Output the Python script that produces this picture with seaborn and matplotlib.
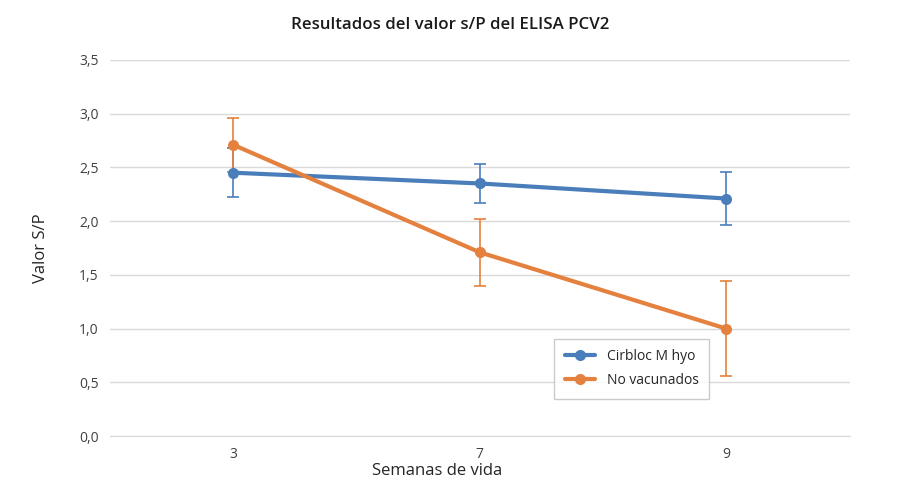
import numpy as np
import pandas as pd
import matplotlib
matplotlib.use("Agg")
import matplotlib.pyplot as plt
import seaborn as sns

# data
semanas = ["3", "7", "9"]
cirbloc = [2.45, 2.35, 2.21]
cirbloc_err = [0.23, 0.18, 0.25]
no_vac = [2.71, 1.71, 1.00]
no_vac_err = [0.25, 0.31, 0.44]
series = ["Cirbloc M hyo", "No vacunados"]
colors = ["#4a7ebb", "#e5813e"]

df = pd.DataFrame({
    "semana": semanas * 2,
    "valor": cirbloc + no_vac,
    "grupo": [series[0]] * 3 + [series[1]] * 3,
})

sns.set_style("white")
plt.rcParams["font.family"] = ["Open Sans", "DejaVu Sans"]

fig = plt.figure(figsize=(9, 4.94), dpi=100)
ax = fig.add_axes([0.122, 0.117, 0.822, 0.762])

# error bars first so the lines sit on top
for vals, errs, c in [(cirbloc, cirbloc_err, colors[0]), (no_vac, no_vac_err, colors[1])]:
    ax.errorbar(range(len(semanas)), vals, yerr=errs, fmt="none", ecolor=c,
                elinewidth=1.2, capsize=4, capthick=1.2, zorder=2)

sns.lineplot(data=df, x="semana", y="valor", hue="grupo", palette=colors,
             marker="o", markersize=8, markeredgewidth=0, linewidth=3,
             ax=ax, zorder=3)

ax.set_xlim(-0.5, 2.5)
ax.set_ylim(0, 3.5)
ax.set_yticks(np.arange(0, 3.51, 0.5))
ax.set_yticklabels([f"{v:.1f}".replace(".", ",") for v in np.arange(0, 3.51, 0.5)])
ax.yaxis.grid(True, color="#d9d9d9", linewidth=1)
ax.xaxis.grid(False)
ax.tick_params(axis="both", length=0, labelsize=10, labelcolor="#404040", pad=8)
for s in ["top", "right", "left"]:
    ax.spines[s].set_visible(False)
ax.spines["bottom"].set_color("#d9d9d9")

ax.set_xlabel("Semanas de vida", fontsize=12, color="#262626", labelpad=2)
ax.xaxis.set_label_coords(0.442, -0.07)
ax.set_ylabel("Valor S/P", fontsize=12, color="#262626", labelpad=22)
fig.suptitle("Resultados del valor s/P del ELISA PCV2", x=0.5, y=0.965,
             fontsize=12.2, fontweight="semibold", color="#1a1a1a")

leg = ax.legend(loc="lower left", bbox_to_anchor=(0.601, 0.1), frameon=True,
                fancybox=False, fontsize=10, handlelength=2.2, borderpad=0.75,
                labelspacing=0.65, handletextpad=0.8, borderaxespad=0)
leg.get_frame().set_edgecolor("#bfbfbf")
leg.get_frame().set_linewidth(1)

fig.savefig("out.png", dpi=100)
